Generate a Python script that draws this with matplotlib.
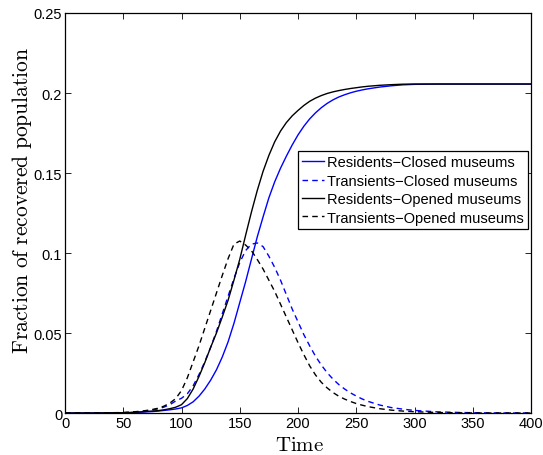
import matplotlib
matplotlib.use("Agg")
import matplotlib.pyplot as plt
from matplotlib.ticker import FuncFormatter, MultipleLocator

# time grid (same for every curve)
time = [0, 25] + list(range(50, 261, 5)) + [270, 280, 290, 300, 320, 340, 360, 380, 400]

residents_closed = [0, 0, 0.0001, 0.0002, 0.0003, 0.0005, 0.0007, 0.0009, 0.0012,
                    0.0016, 0.002, 0.0025, 0.0032, 0.0047, 0.007, 0.0105, 0.015,
                    0.0205, 0.027, 0.035, 0.0445, 0.056, 0.069, 0.082, 0.096,
                    0.110, 0.1225, 0.1345, 0.1445, 0.153, 0.1605, 0.1675, 0.1738,
                    0.1792, 0.1838, 0.1876, 0.1908, 0.1935, 0.1957, 0.1975,
                    0.1989, 0.2001, 0.2011, 0.2019, 0.2026, 0.2037, 0.2045,
                    0.2051, 0.2054, 0.2056, 0.2056, 0.2056, 0.2056, 0.2056]

transients_closed = [0, 0, 0.0002, 0.0004, 0.0006, 0.0009, 0.0013, 0.0019, 0.0026,
                     0.0037, 0.0052, 0.0075, 0.0092, 0.012, 0.017, 0.024, 0.032,
                     0.041, 0.051, 0.062, 0.073, 0.084, 0.094, 0.1015, 0.1055,
                     0.1063, 0.104, 0.098, 0.091, 0.083, 0.074, 0.065, 0.057,
                     0.049, 0.042, 0.0355, 0.030, 0.0252, 0.0212, 0.0178, 0.015,
                     0.0126, 0.0106, 0.0088, 0.0073, 0.005, 0.0034, 0.0024,
                     0.0016, 0.0007, 0.0003, 0.0001, 0, 0]

residents_opened = [0, 0, 0.0002, 0.0003, 0.0005, 0.0007, 0.001, 0.0012, 0.0015,
                    0.002, 0.0027, 0.0036, 0.0052, 0.009, 0.015, 0.0228, 0.0315,
                    0.041, 0.050, 0.060, 0.0705, 0.083, 0.096, 0.111, 0.1255,
                    0.139, 0.151, 0.161, 0.1695, 0.1762, 0.1815, 0.1857, 0.1891,
                    0.1922, 0.1948, 0.1968, 0.1984, 0.1997, 0.2007, 0.2015,
                    0.2022, 0.2028, 0.2033, 0.2038, 0.2042, 0.2048, 0.2052,
                    0.2055, 0.2056, 0.2056, 0.2056, 0.2056, 0.2056, 0.2056]

transients_opened = [0, 0, 0.0003, 0.0005, 0.0008, 0.0011, 0.0016, 0.0022, 0.003,
                     0.0043, 0.0062, 0.009, 0.014, 0.022, 0.032, 0.042, 0.053,
                     0.064, 0.075, 0.086, 0.0965, 0.1055, 0.1075, 0.105, 0.1015,
                     0.096, 0.090, 0.083, 0.076, 0.068, 0.060, 0.052, 0.044,
                     0.0365, 0.0295, 0.0238, 0.0192, 0.0157, 0.0128, 0.0105,
                     0.0087, 0.0072, 0.0059, 0.0049, 0.004, 0.0027, 0.0018,
                     0.0012, 0.0008, 0.0003, 0.0001, 0, 0, 0]

labels = ["Residents\u2212Closed museums", "Transients\u2212Closed museums",
          "Residents\u2212Opened museums", "Transients\u2212Opened museums"]

plt.rcParams['font.family'] = ['Liberation Sans', 'DejaVu Sans']
plt.rcParams['mathtext.fontset'] = 'cm'

fig = plt.figure(figsize=(5.43, 4.56), dpi=100)
ax = fig.add_axes([65 / 543, 1 - 414 / 456, 466 / 543, 400 / 456])

ax.plot(time, residents_closed, color='#0000ff', lw=1.0, label=labels[0])
ax.plot(time, transients_closed, color='#0000ff', lw=1.0, ls=(0, (4, 3)), label=labels[1])
ax.plot(time, residents_opened, color='black', lw=1.0, label=labels[2])
ax.plot(time, transients_opened, color='black', lw=1.0, ls=(0, (4, 3)), label=labels[3])

ax.set_xlim(0, 400)
ax.set_ylim(0, 0.25)
ax.xaxis.set_major_locator(MultipleLocator(50))
ax.yaxis.set_major_locator(MultipleLocator(0.05))
ax.yaxis.set_major_formatter(FuncFormatter(lambda v, p: '%g' % round(v, 4)))
ax.tick_params(direction='in', length=4, width=0.6, top=True, right=True,
               labelsize=10.5, pad=2, colors='black')
for s in ax.spines.values():
    s.set_linewidth(0.9)

# serif (Computer Modern) axis labels like a LaTeX figure
fig.text(22 / 543, 1 - 200 / 456, r'$\mathrm{Fraction\ of\ recovered\ population}$',
         rotation=90, ha='center', va='center', fontsize=15.5)
fig.text(299 / 543, 1 - 451 / 456, r'$\mathrm{Time}$', ha='center', va='baseline',
         fontsize=15)

leg = ax.legend(loc='upper left', bbox_to_anchor=(0.5, 0.655), borderaxespad=0,
                fontsize=10.5, handlelength=1.5, handletextpad=0.2,
                labelspacing=0.3, borderpad=0.3, fancybox=False, framealpha=1)
leg.get_frame().set_edgecolor('black')
leg.get_frame().set_linewidth(0.9)

fig.savefig('out.png', dpi=100)
